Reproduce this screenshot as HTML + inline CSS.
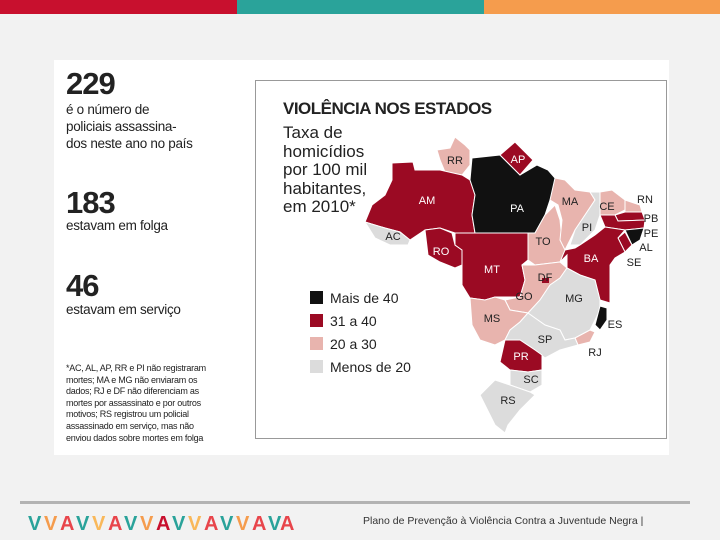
<!DOCTYPE html>
<html><head><meta charset="utf-8"><style>
body{margin:0;width:720px;height:540px;background:#f2f2f2;position:relative;overflow:hidden;font-family:"Liberation Sans",sans-serif;}
.abs{position:absolute;}
.t{font-family:"Liberation Sans",sans-serif;color:#222;}
</style></head><body>
<div class="abs" style="left:0;top:0;width:237px;height:14px;background:#c8102e"></div>
<div class="abs" style="left:237px;top:0;width:247px;height:14px;background:#2aa39a"></div>
<div class="abs" style="left:484px;top:0;width:236px;height:14px;background:#f59c4d"></div>
<div class="abs" style="left:54px;top:60px;width:615px;height:395px;background:#fff"></div>
<div class="abs t" style="left:66px;top:66px;font-size:31px;font-weight:bold;letter-spacing:-1px">229</div>
<div class="abs t" style="left:66px;top:101px;font-size:13.5px;line-height:17px;letter-spacing:-0.3px">é o número de<br>policiais assassina-<br>dos neste ano no país</div>
<div class="abs t" style="left:66px;top:185px;font-size:31px;font-weight:bold;letter-spacing:-1px">183</div>
<div class="abs t" style="left:66px;top:218px;font-size:13.5px;letter-spacing:-0.3px">estavam em folga</div>
<div class="abs t" style="left:66px;top:268px;font-size:31px;font-weight:bold;letter-spacing:-1px">46</div>
<div class="abs t" style="left:66px;top:302px;font-size:13.5px;letter-spacing:-0.3px">estavam em serviço</div>
<div class="abs t" style="left:66px;top:363px;font-size:9px;line-height:11.6px;letter-spacing:-0.25px;white-space:nowrap">*AC, AL, AP, RR e PI não registraram<br>mortes; MA e MG não enviaram os<br>dados; RJ e DF não diferenciam as<br>mortes por assassinato e por outros<br>motivos; RS registrou um policial<br>assassinado em serviço, mas não<br>enviou dados sobre mortes em folga</div>
<div class="abs" style="left:255px;top:80px;width:412px;height:359px;border:1px solid #999;box-sizing:border-box"></div>
<div class="abs t" style="left:283px;top:99px;font-size:17px;font-weight:bold;letter-spacing:-0.5px">VIOLÊNCIA NOS ESTADOS</div>
<div class="abs t" style="left:283px;top:124px;font-size:17px;line-height:18.5px">Taxa de<br>homicídios<br>por 100 mil<br>habitantes,<br>em 2010*</div>
<svg class="abs" style="left:0;top:0" width="720" height="540">
<g stroke="#fff" stroke-width="1">
<polygon fill="#e8b4ae" points="437,150 450,148 455,137 465,145 470,150 470,165 462,175 445,172 440,160"/>
<polygon fill="#9b0a23" points="392,163 413,162 415,170 440,170 462,175 470,180 475,195 472,215 475,233 455,233 440,228 425,230 410,240 400,232 385,228 365,222 372,205 385,195 392,180"/>
<polygon fill="#111" points="472,158 500,155 520,175 537,165 548,170 555,178 560,185 550,200 545,215 535,233 475,233 472,215 475,195 470,180"/>
<polygon fill="#9b0a23" points="500,155 515,142 533,160 520,175"/>
<polygon fill="#dcdcdc" points="365,222 385,228 400,232 410,240 408,245 390,245 375,238"/>
<polygon fill="#9b0a23" points="425,230 440,228 452,233 455,245 462,250 462,265 455,268 440,262 428,255"/>
<polygon fill="#9b0a23" points="455,233 528,233 528,260 522,265 525,280 520,297 495,297 485,300 470,298 462,285 462,265 462,250 455,245"/>
<polygon fill="#e8b4ae" points="545,215 555,205 560,220 562,240 567,255 560,262 535,265 528,260 528,233 535,233"/>
<polygon fill="#e8b4ae" points="555,178 565,180 575,190 590,192 595,200 585,215 575,230 565,250 560,240 562,220 558,205 550,200"/>
<polygon fill="#dcdcdc" points="590,192 600,192 600,215 595,230 580,245 570,245 575,230 585,215 595,200"/>
<polygon fill="#e8b4ae" points="600,192 612,190 625,200 625,210 615,215 600,215"/>
<polygon fill="#e8b4ae" points="625,200 640,205 642,212 625,212"/>
<polygon fill="#9b0a23" points="615,215 625,212 642,212 645,220 618,221"/>
<polygon fill="#9b0a23" points="600,215 615,215 618,221 645,220 644,228 625,230 605,227"/>
<polygon fill="#111" points="625,230 644,228 640,240 632,245"/>
<polygon fill="#9b0a23" points="618,238 625,232 632,245 625,252"/>
<polygon fill="#9b0a23" points="580,245 595,235 605,227 625,230 618,238 625,252 615,258 610,265 610,303 600,300 595,280 580,275 567,268 567,255 560,262 565,250 575,248"/>
<polygon fill="#e8b4ae" points="535,265 560,262 567,268 560,278 550,285 540,300 528,313 510,310 505,300 520,297 525,280 522,265"/>
<rect fill="#9b0a23" x="542" y="278" width="7" height="5" stroke="none"/>
<polygon fill="#dcdcdc" points="560,278 567,268 580,275 595,280 600,300 600,310 590,330 575,338 565,340 560,330 545,325 535,318 528,313 540,300 550,285"/>
<polygon fill="#111" points="600,306 607,308 607,320 600,330 595,325"/>
<polygon fill="#e8b4ae" points="575,338 590,330 595,332 590,342 578,345"/>
<polygon fill="#e8b4ae" points="470,298 485,300 495,297 505,300 510,310 528,313 520,322 510,330 505,340 495,345 480,340 472,325"/>
<polygon fill="#dcdcdc" points="510,330 520,322 528,313 535,318 545,325 560,330 565,340 575,338 578,345 560,350 545,358 535,350 520,340 505,340"/>
<polygon fill="#9b0a23" points="505,340 520,340 535,350 542,355 542,370 528,372 510,370 500,362"/>
<polygon fill="#dcdcdc" points="510,370 528,372 542,370 542,385 530,392 510,385"/>
<polygon fill="#dcdcdc" points="495,380 510,385 530,392 535,395 520,410 508,425 505,433 495,425 485,405 480,395"/>
</g>
<g font-family="Liberation Sans" font-size="11" text-anchor="middle">
<text x="455" y="164" fill="#222">RR</text><text x="518" y="163" fill="#fff">AP</text>
<text x="427" y="204" fill="#fff">AM</text><text x="517" y="212" fill="#fff">PA</text>
<text x="393" y="240" fill="#222">AC</text><text x="441" y="255" fill="#fff">RO</text>
<text x="492" y="273" fill="#fff">MT</text><text x="543" y="245" fill="#222">TO</text>
<text x="570" y="205" fill="#222">MA</text><text x="587" y="231" fill="#222">PI</text>
<text x="607" y="210" fill="#222">CE</text><text x="645" y="203" fill="#222">RN</text>
<text x="651" y="222" fill="#222">PB</text><text x="651" y="237" fill="#222">PE</text>
<text x="646" y="251" fill="#222">AL</text><text x="634" y="266" fill="#222">SE</text>
<text x="591" y="262" fill="#fff">BA</text><text x="545" y="281" fill="#222">DF</text>
<text x="524" y="300" fill="#222">GO</text><text x="574" y="302" fill="#222">MG</text>
<text x="492" y="322" fill="#222">MS</text><text x="545" y="343" fill="#222">SP</text>
<text x="615" y="328" fill="#222">ES</text><text x="595" y="356" fill="#222">RJ</text>
<text x="521" y="360" fill="#fff">PR</text><text x="531" y="383" fill="#222">SC</text>
<text x="508" y="404" fill="#222">RS</text>
</g>
<g font-family="Liberation Sans" font-size="14" fill="#222">
<rect x="310" y="291" width="13" height="13" fill="#111"/><text x="330" y="303">Mais de 40</text>
<rect x="310" y="314" width="13" height="13" fill="#9b0a23"/><text x="330" y="326">31 a 40</text>
<rect x="310" y="337" width="13" height="13" fill="#e8b4ae"/><text x="330" y="349">20 a 30</text>
<rect x="310" y="360" width="13" height="13" fill="#dcdcdc"/><text x="330" y="372">Menos de 20</text>
</g>
<rect x="20" y="501" width="670" height="3" fill="#b3b3b3"/>
<g font-family="Liberation Sans" font-weight="bold" font-size="20">
<text x="28" y="530" fill="#2aa39a">V</text><text x="44" y="530" fill="#f59c4d">V</text><text x="60" y="530" fill="#e8454b">A</text>
<text x="76" y="530" fill="#2aa39a">V</text><text x="92" y="530" fill="#f9b85a">V</text><text x="108" y="530" fill="#e8454b">A</text>
<text x="124" y="530" fill="#2aa39a">V</text><text x="140" y="530" fill="#f59c4d">V</text><text x="156" y="530" fill="#c8102e">A</text>
<text x="172" y="530" fill="#2aa39a">V</text><text x="188" y="530" fill="#f9b85a">V</text><text x="204" y="530" fill="#e8454b">A</text>
<text x="220" y="530" fill="#2aa39a">V</text><text x="236" y="530" fill="#f59c4d">V</text><text x="252" y="530" fill="#e8454b">A</text>
<text x="268" y="530" fill="#2aa39a">V</text><text x="280" y="530" fill="#e8454b">A</text>
</g>
<text x="363" y="524" font-family="Liberation Sans" font-size="10.5" fill="#333">Plano de Prevenção à Violência Contra a Juventude Negra  |</text>
</svg>
</body></html>
